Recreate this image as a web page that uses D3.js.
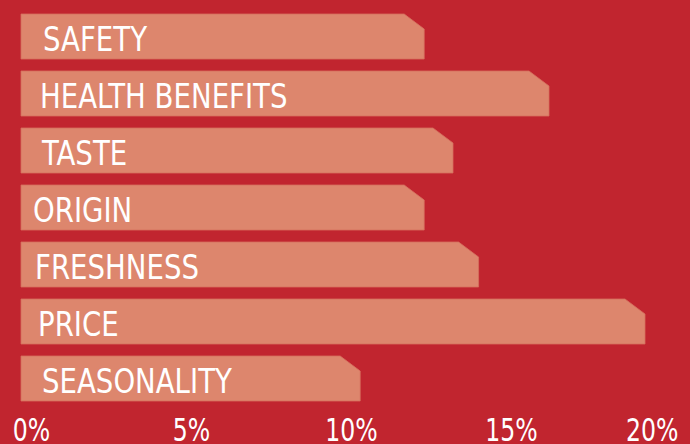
<!DOCTYPE html>
<html>
<head>
<meta charset="utf-8">
<script src="https://cdn.jsdelivr.net/npm/d3@7"></script>
<style>
  html, body { margin: 0; padding: 0; background: #c1252f; }
  svg { display: block; }
  .lbl, .tick text {
    font-family: "Liberation Sans Narrow", "DejaVu Sans Condensed", "Roboto", sans-serif;
    fill: #ffffff;
  }
</style>
</head>
<body>
<svg id="chart" width="690" height="444"></svg>
<script>
// Purchase drivers, share of respondents (%)
const categories = ["SAFETY", "HEALTH BENEFITS", "TASTE", "ORIGIN", "FRESHNESS", "PRICE", "SEASONALITY"];
const shares = [12.6, 16.5, 13.5, 12.6, 14.3, 19.5, 10.6];
const tickValues = [0, 5, 10, 15, 20];
const tickLabels = ["0%", "5%", "10%", "15%", "20%"];

// label indents inside each bar (layout only)
const labelIndent = [22, 19, 21, 12, 14, 17, 21];

const W = 690, H = 444;
const svg = d3.select("#chart");

svg.append("rect").attr("width", W).attr("height", H).attr("fill", "#c1252f");

const x = d3.scaleLinear().domain([0, 20]).range([21, 661]);
const y = d3.scaleBand().domain(categories).range([14, 401]).paddingInner(12 / 57).paddingOuter(0);

const rows = categories.map((c, i) => ({ cat: c, val: shares[i], indent: labelIndent[i] }));

// bar with a clipped top-right corner
const cutW = 20, cutH = 15;
function barPath(d) {
  const x0 = x(0), x1 = x(d.val), y0 = y(d.cat), y1 = y0 + y.bandwidth();
  return `M${x0},${y0}H${x1 - cutW}L${x1},${y0 + cutH}V${y1}H${x0}Z`;
}

const g = svg.append("g");
g.selectAll("path.bar").data(rows).join("path")
  .attr("class", "bar")
  .attr("d", barPath)
  .attr("fill", "#dd866d")
  .attr("stroke", "#d76f5e")
  .attr("stroke-width", 0.8);

// narrow the condensed face a little more for the bar labels
g.selectAll("text.lbl").data(rows).join("text")
  .attr("class", "lbl")
  .attr("transform", d => `translate(${x(0) + d.indent},${y(d.cat) + 37}) scale(0.93,1)`)
  .attr("font-size", 33)
  .text(d => d.cat);

// percentage axis along the bottom
const axis = d3.axisBottom(x)
  .tickValues(tickValues)
  .tickFormat((d, i) => tickLabels[i])
  .tickSize(0)
  .tickPadding(0);

const ax = svg.append("g").attr("transform", "translate(0,441)").call(axis);
ax.select(".domain").remove();
const sx = 0.82;
ax.selectAll(".tick text")
  .attr("font-size", 32)
  .attr("y", 0)
  .attr("dy", 0)
  .attr("text-anchor", "middle")
  .attr("transform", `translate(10,0) scale(${sx},1)`)
  .attr("fill", "#ffffff");
ax.selectAll(".tick text").filter(d => d === 20)
  .attr("text-anchor", "end")
  .attr("transform", `translate(${678 - x(20)},0) scale(${sx},1)`);
</script>
</body>
</html>
